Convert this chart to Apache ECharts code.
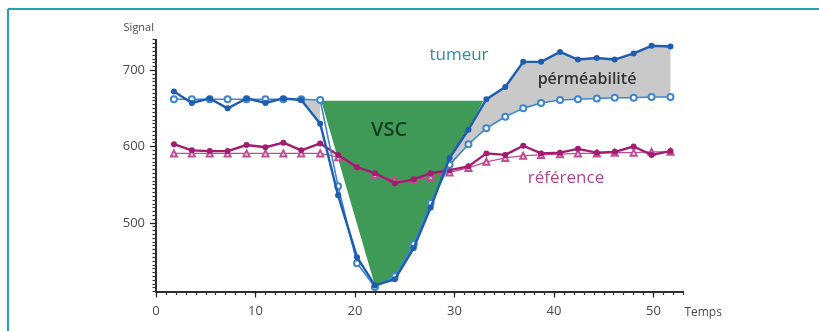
<!DOCTYPE html>
<html>
<head>
<meta charset="utf-8">
<script src="https://cdn.jsdelivr.net/npm/echarts@6/dist/echarts.min.js"></script>
<style>
  html, body { margin: 0; padding: 0; background: #ffffff; }
  #chart { width: 819px; height: 331px; }
</style>
</head>
<body>
<div id="chart"></div>
<script>
// Acquisition times (s)
const temps = [1.8, 3.6, 5.4, 7.2, 9.1, 11.0, 12.8, 14.6, 16.5, 18.3, 20.2, 22.0, 24.0, 25.9,
               27.6, 29.5, 31.4, 33.2, 35.1, 36.9, 38.7, 40.6, 42.4, 44.3, 46.1, 48.0, 49.8, 51.7];

// Tumour signal: measured points and fitted curve
const tumeurMesure = [672, 657, 663, 650, 663, 657, 663, 661, 630, 536, 455, 418, 426, 467,
                      520, 585, 622, 662, 678, 711, 711, 724, 714, 716, 714, 722, 732, 731];
const tumeurModele = [662, 662, 662, 662, 662, 662, 662, 662, 661, 548, 447, 416, 430, 472,
                      526, 576, 603, 624, 639, 650, 657, 661, 662, 663, 664, 664, 665, 665];

// Reference tissue signal: measured points and fitted curve
const referenceMesure = [603, 595, 594, 594, 602, 599, 605, 595, 604, 589, 573, 565, 552, 557,
                         565, 569, 574, 591, 589, 601, 591, 592, 597, 592, 593, 600, 589, 594];
const referenceModele = [591, 591, 591, 591, 591, 591, 591, 591, 591, 586, 574, 563, 556, 556,
                         560, 566, 572, 580, 585, 588, 589, 590, 591, 591, 592, 592, 593, 593];

// Axis graduations
const graduationsSignal = [500, 600, 700];
const graduationsTemps = [0, 10, 20, 30, 40, 50];

// Blood volume (VSC) area: pre-bolus baseline and its start / end times
const vscPlafond = 660;
const vscDebut = 16.6;
const vscFin = 32.9;
// indices of the measured points bounding the VSC area from below
const vscIndices = [11, 12, 13, 14, 15, 16];
// indices where the measured curve parts from the fitted one (permeability leak)
const fuiteGauche = [7, 8];
const fuiteDroite = [15, 16, 17, 18, 19, 20, 21, 22, 23, 24, 25, 26, 27];

const police = '"Open Sans", "Noto Sans", sans-serif';

function points(arr) {
  return temps.map((t, i) => [t, arr[i]]);
}

function zone(name, sommets, couleur) {
  return {
    type: 'custom',
    name: name,
    silent: true,
    z: 1,
    data: [sommets[0]],
    renderItem: function (params, api) {
      return {
        type: 'polygon',
        shape: { points: sommets.map(p => api.coord(p)) },
        style: { fill: couleur }
      };
    }
  };
}

const zoneVsc = [[vscDebut, vscPlafond]]
  .concat(vscIndices.map(i => [temps[i], tumeurMesure[i]]))
  .concat([[vscFin, vscPlafond]]);

function zoneFuite(indices) {
  const haut = indices.map(i => [temps[i], tumeurMesure[i]]);
  const bas = indices.slice().reverse().map(i => [temps[i], tumeurModele[i]]);
  return haut.concat(bas);
}

const chart = echarts.init(document.getElementById('chart'), null, { renderer: 'canvas' });

const axeX = {
  type: 'value', min: 0, max: 53, position: 'bottom',
  axisLine: { lineStyle: { color: '#222', width: 1.5 } },
  splitLine: { show: false }
};
const axeY = {
  type: 'value', min: 410, max: 740, position: 'left',
  axisLine: { lineStyle: { color: '#222', width: 1.5 } },
  splitLine: { show: false }
};

chart.setOption({
  animation: false,
  backgroundColor: '#ffffff',
  grid: { left: 156, right: 135.6, top: 39.7, bottom: 39.5 },
  xAxis: [
    Object.assign({}, axeX, {
      interval: 1,
      axisTick: { length: 3.5, interval: 0, lineStyle: { color: '#333', width: 1.2 } },
      axisLabel: { show: false }
    }),
    Object.assign({}, axeX, {
      name: 'Temps',
      nameLocation: 'end',
      nameGap: 1,
      nameTextStyle: { fontFamily: police, fontSize: 12, color: '#4a4a4a', align: 'left', verticalAlign: 'top', padding: [15, 0, 0, 0] },
      axisTick: { length: 6, customValues: graduationsTemps, lineStyle: { color: '#222', width: 1.2 } },
      axisLabel: { customValues: graduationsTemps, margin: 13, fontFamily: police, fontSize: 13, color: '#4a4a4a' }
    })
  ],
  yAxis: [
    Object.assign({}, axeY, {
      interval: 5,
      axisTick: { length: 3.5, interval: 0, lineStyle: { color: '#333', width: 1.2 } },
      axisLabel: { show: false }
    }),
    Object.assign({}, axeY, {
      name: 'Signal',
      nameLocation: 'end',
      nameGap: 6,
      nameTextStyle: { fontFamily: police, fontSize: 11, color: '#4a4a4a', align: 'right', verticalAlign: 'bottom', padding: [0, 2, 0, 0] },
      axisTick: { length: 6, customValues: graduationsSignal, lineStyle: { color: '#222', width: 1.2 } },
      axisLabel: { customValues: graduationsSignal, margin: 11, fontFamily: police, fontSize: 13, color: '#4a4a4a' }
    })
  ],
  graphic: [
    { type: 'line', z: 100, shape: { x1: 8, y1: 9, x2: 819, y2: 9 }, style: { stroke: '#1aa6b6', lineWidth: 2 } },
    { type: 'line', z: 100, shape: { x1: 8, y1: 9, x2: 8, y2: 331 }, style: { stroke: '#1aa6b6', lineWidth: 2 } },
    { type: 'text', z: 100, x: 459, y: 55, style: { text: 'tumeur', font: '17px ' + police, fill: '#2a8bb0', align: 'center', verticalAlign: 'middle' } },
    { type: 'text', z: 100, x: 587, y: 79, style: { text: 'pérméabilité', font: '600 16px ' + police, fill: '#333333', align: 'center', verticalAlign: 'middle' } },
    { type: 'text', z: 100, x: 389, y: 130, style: { text: 'VSC', font: '600 20px ' + police, fill: '#163c20', align: 'center', verticalAlign: 'middle' } },
    { type: 'text', z: 100, x: 566, y: 178, style: { text: 'référence', font: '17px ' + police, fill: '#b0468f', align: 'center', verticalAlign: 'middle' } }
  ],
  series: [
    zone('VSC', zoneVsc, '#3f9a57'),
    zone('perméabilité avant bolus', zoneFuite(fuiteGauche), '#c9c9c9'),
    zone('perméabilité', zoneFuite(fuiteDroite), '#c9c9c9'),
    {
      name: 'référence (modèle)', type: 'line', z: 3,
      data: points(referenceModele),
      symbol: 'emptyTriangle', symbolSize: 6,
      lineStyle: { color: '#c24c94', width: 1.3 },
      itemStyle: { color: '#c24c94', borderWidth: 1 }
    },
    {
      name: 'référence', type: 'line', z: 4,
      data: points(referenceMesure),
      symbol: 'circle', symbolSize: 6,
      lineStyle: { color: '#a31c70', width: 2.4 },
      itemStyle: { color: '#a31c70' }
    },
    {
      name: 'tumeur (modèle)', type: 'line', z: 5,
      data: points(tumeurModele),
      symbol: 'emptyCircle', symbolSize: 6,
      lineStyle: { color: '#3f86d0', width: 1.6 },
      itemStyle: { color: '#3f86d0', borderWidth: 1.2 }
    },
    {
      name: 'tumeur', type: 'line', z: 6,
      data: points(tumeurMesure),
      symbol: 'circle', symbolSize: 6,
      lineStyle: { color: '#1f5db0', width: 2.4 },
      itemStyle: { color: '#1f5db0' }
    }
  ]
});
</script>
</body>
</html>
